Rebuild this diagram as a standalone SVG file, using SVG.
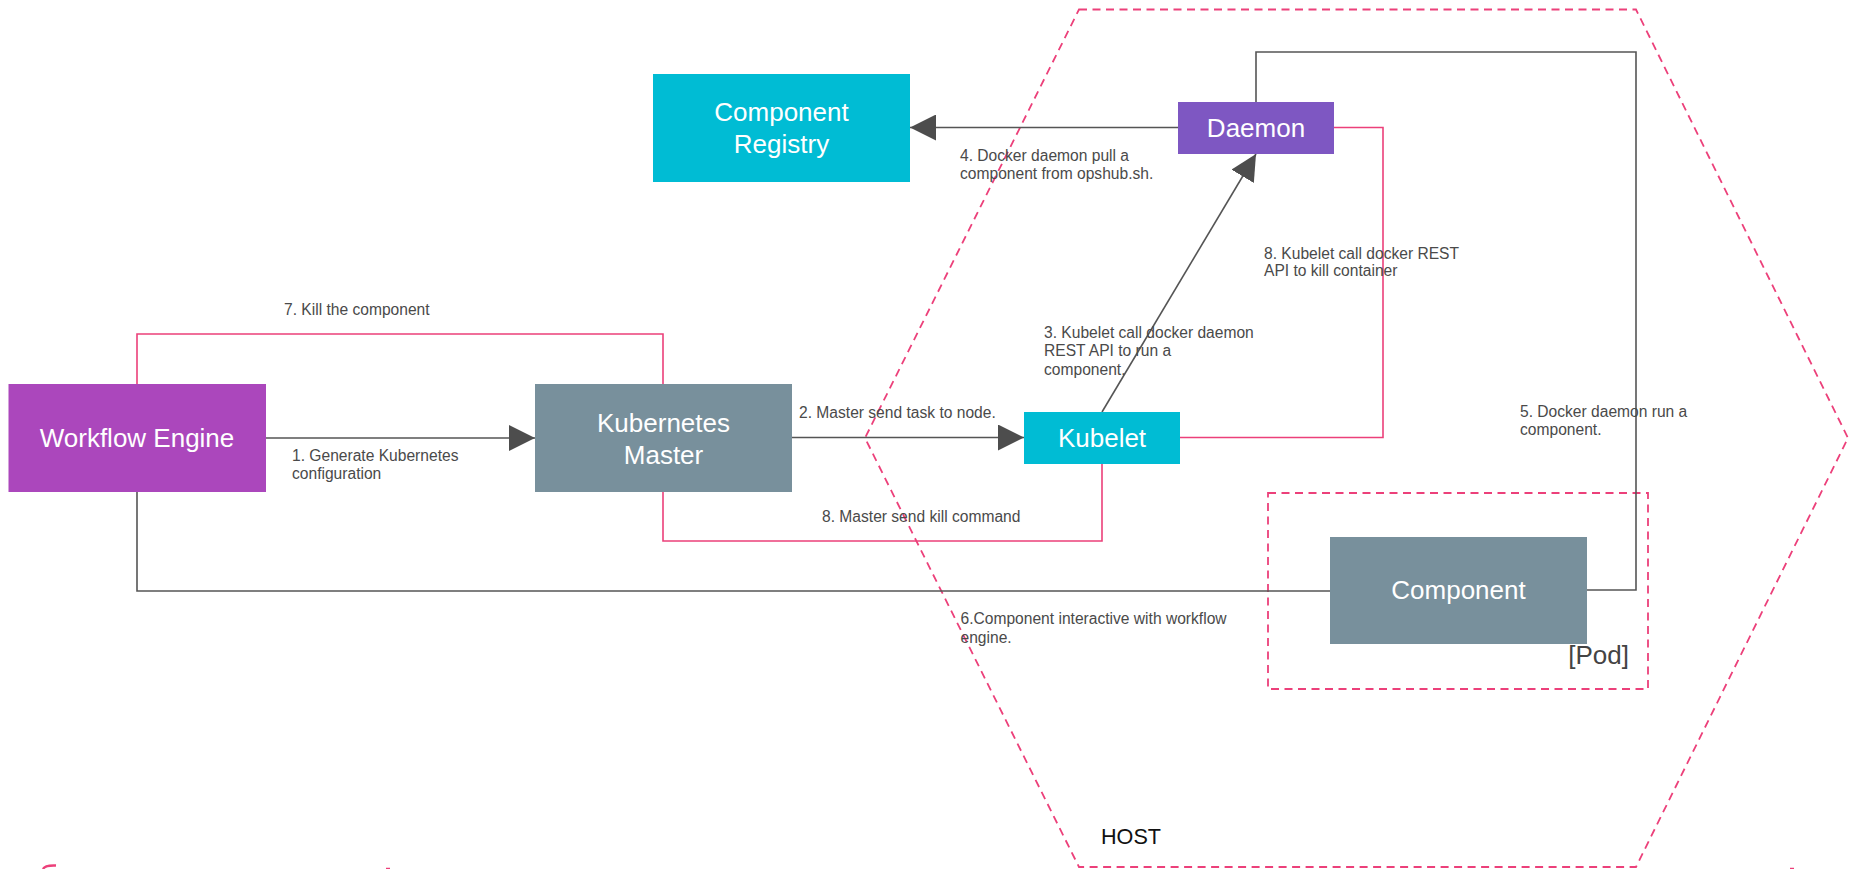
<svg xmlns="http://www.w3.org/2000/svg" width="1849" height="869" viewBox="0 0 1849 869">
<style>
.node-text{font-family:"Liberation Sans",Arial,sans-serif;font-size:26px;fill:#ffffff;text-anchor:middle}
.lbl{font-family:"Liberation Sans",Arial,sans-serif;font-size:15.6px;fill:#4a4a4a}
.gray{fill:none;stroke:#555555;stroke-width:1.6}
.pink{fill:none;stroke:#EC407A;stroke-width:1.6}
.dash{fill:none;stroke:#EC407A;stroke-width:1.8;stroke-dasharray:8 5.5}
</style>
<defs>
<marker id="arr" viewBox="0 0 26 26" markerWidth="26" markerHeight="26" refX="26" refY="13" orient="auto" markerUnits="userSpaceOnUse">
<path d="M0,0 L26,13 L0,26 z" fill="#4d4d4d"/>
</marker>
</defs>
<g id="host">
<polygon class="dash" points="1079,9.5 1636,9.5 1848,438 1636,867 1079,867 865,438"/>
<text x="1101" y="844" font-family="Liberation Sans,Arial,sans-serif" font-size="21.6" fill="#111111">HOST</text>
</g>
<g id="pod">
<rect class="dash" x="1268" y="493" width="380" height="196"/>
<text x="1629" y="664" font-family="Liberation Sans,Arial,sans-serif" font-size="26" fill="#444444" text-anchor="end">[Pod]</text>
</g>
<g id="bottom-edge">
<path d="M43,869 Q45,865 56,865.5" fill="none" stroke="#EC407A" stroke-width="2.5"/>
<line x1="386" y1="868.5" x2="390" y2="868.5" stroke="#EC407A" stroke-width="1.5"/>
<line x1="1790" y1="868.5" x2="1794" y2="868.5" stroke="#EC407A" stroke-width="1.5"/>
</g>
<g id="connectors">
<polyline class="pink" points="137,384 137,334 663,334 663,384"/>
<polyline class="pink" points="663,492 663,541 1102,541 1102,464"/>
<polyline class="pink" points="1334,127.5 1383,127.5 1383,437.5 1180,437.5"/>
<polyline class="gray" points="137,492 137,591 1330,591"/>
<polyline class="gray" points="1587,590 1636,590 1636,52 1256,52 1256,102"/>
<line class="gray" x1="266" y1="438" x2="535" y2="438" marker-end="url(#arr)"/>
<line class="gray" x1="792" y1="437.5" x2="1024" y2="437.5" marker-end="url(#arr)"/>
<line class="gray" x1="1178" y1="127.5" x2="910" y2="127.5" marker-end="url(#arr)"/>
<line class="gray" x1="1102" y1="412" x2="1256" y2="154" marker-end="url(#arr)"/>
</g>
<g id="workflow-engine">
<rect x="8.5" y="384" width="257.5" height="108" fill="#AB47BC"/>
<text class="node-text" x="137" y="447">Workflow Engine</text>
</g>
<g id="kubernetes-master">
<rect x="535" y="384" width="257" height="108" fill="#78909C"/>
<text class="node-text" x="663.5" y="432">Kubernetes</text>
<text class="node-text" x="663.5" y="464">Master</text>
</g>
<g id="component-registry">
<rect x="653" y="74" width="257" height="108" fill="#00BCD4"/>
<text class="node-text" x="781.5" y="121">Component</text>
<text class="node-text" x="781.5" y="153">Registry</text>
</g>
<g id="daemon">
<rect x="1178" y="102" width="156" height="52" fill="#7E57C2"/>
<text class="node-text" x="1256" y="137">Daemon</text>
</g>
<g id="kubelet">
<rect x="1024" y="412" width="156" height="52" fill="#00BCD4"/>
<text class="node-text" x="1102" y="447">Kubelet</text>
</g>
<g id="component">
<rect x="1330" y="537" width="257" height="107" fill="#78909C"/>
<text class="node-text" x="1458.5" y="599">Component</text>
</g>
<g id="labels">
<text class="lbl" x="284" y="315">7. Kill the component</text>
<text class="lbl" x="292" y="460.5">1. Generate Kubernetes</text>
<text class="lbl" x="292" y="478.5">configuration</text>
<text class="lbl" x="799" y="418">2. Master send task to node.</text>
<text class="lbl" x="822" y="521.5">8. Master send kill command</text>
<text class="lbl" x="1044" y="337.5">3. Kubelet call docker daemon</text>
<text class="lbl" x="1044" y="356">REST API to run a</text>
<text class="lbl" x="1044" y="374.5">component.</text>
<text class="lbl" x="960" y="161">4. Docker daemon pull a</text>
<text class="lbl" x="960" y="178.5">component from opshub.sh.</text>
<text class="lbl" x="1264" y="258.5">8. Kubelet call docker REST</text>
<text class="lbl" x="1264" y="276">API to kill container</text>
<text class="lbl" x="1520" y="416.5">5. Docker daemon run a</text>
<text class="lbl" x="1520" y="435">component.</text>
<text class="lbl" x="960.5" y="624">6.Component interactive with workflow</text>
<text class="lbl" x="960.5" y="643">engine.</text>
</g>
</svg>
